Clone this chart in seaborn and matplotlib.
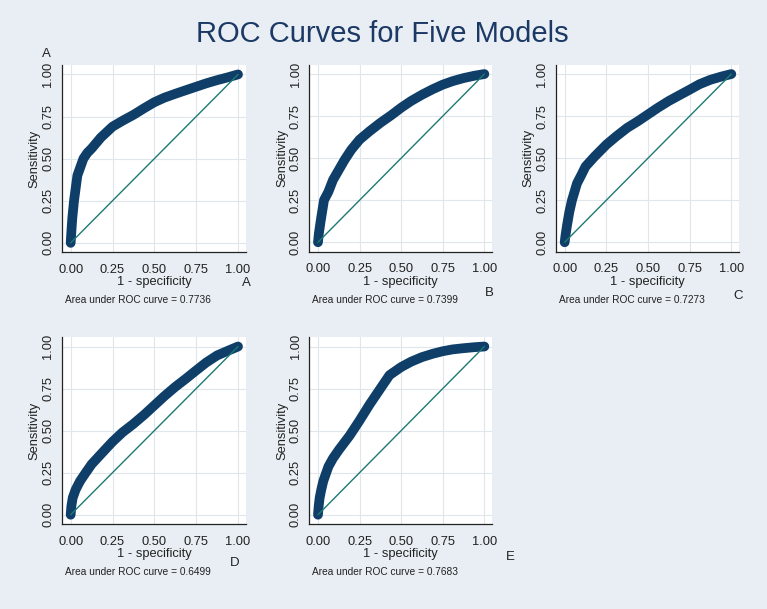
import numpy as np
import pandas as pd
import seaborn as sns
import matplotlib.pyplot as plt

# ROC points (1 - specificity, sensitivity)
fpr_a = [0.0, 0.005, 0.01, 0.02, 0.04, 0.076, 0.1, 0.125, 0.18, 0.25, 0.31, 0.375, 0.44,
         0.5, 0.56, 0.625, 0.69, 0.75, 0.81, 0.875, 0.94, 1.0]
tpr_a = [0.0, 0.08, 0.15, 0.25, 0.40, 0.50, 0.535, 0.56, 0.625, 0.69, 0.725, 0.76, 0.80,
         0.835, 0.862, 0.885, 0.907, 0.927, 0.947, 0.966, 0.983, 1.0]

fpr_b = [0.0, 0.005, 0.016, 0.036, 0.0625, 0.09, 0.125, 0.16, 0.2, 0.25, 0.31, 0.375, 0.44,
         0.5, 0.56, 0.625, 0.69, 0.75, 0.81, 0.875, 0.94, 1.0]
tpr_b = [0.0, 0.05, 0.125, 0.25, 0.30, 0.37, 0.43, 0.49, 0.55, 0.61, 0.66, 0.71, 0.755,
         0.80, 0.84, 0.877, 0.91, 0.937, 0.958, 0.976, 0.99, 1.0]

fpr_c = [0.0, 0.005, 0.014, 0.028, 0.044, 0.074, 0.1, 0.125, 0.18, 0.25, 0.31, 0.375, 0.44,
         0.5, 0.56, 0.625, 0.69, 0.75, 0.81, 0.875, 0.94, 1.0]
tpr_c = [0.0, 0.04, 0.10, 0.18, 0.25, 0.35, 0.40, 0.45, 0.51, 0.58, 0.63, 0.68, 0.72,
         0.76, 0.80, 0.84, 0.875, 0.907, 0.94, 0.966, 0.985, 1.0]

fpr_d = [0.0, 0.004, 0.012, 0.03, 0.056, 0.09, 0.125, 0.19, 0.25, 0.31, 0.375, 0.44, 0.5,
         0.56, 0.625, 0.69, 0.75, 0.81, 0.875, 0.94, 1.0]
tpr_d = [0.0, 0.05, 0.10, 0.15, 0.20, 0.25, 0.30, 0.37, 0.434, 0.49, 0.54, 0.595, 0.65,
         0.705, 0.76, 0.81, 0.858, 0.905, 0.947, 0.975, 1.0]

fpr_e = [0.0, 0.004, 0.01, 0.02, 0.032, 0.0625, 0.09, 0.125, 0.19, 0.25, 0.31, 0.375, 0.43,
         0.5, 0.56, 0.625, 0.69, 0.75, 0.81, 0.875, 0.94, 1.0]
tpr_e = [0.0, 0.05, 0.10, 0.15, 0.20, 0.286, 0.335, 0.385, 0.47, 0.56, 0.655, 0.75, 0.83,
         0.878, 0.91, 0.937, 0.957, 0.972, 0.983, 0.99, 0.996, 1.0]

models = ['A', 'B', 'C', 'D', 'E']
auc_values = ['0.7736', '0.7399', '0.7273', '0.6499', '0.7683']
diag = [0.0, 1.0]
ticks = [0.0, 0.25, 0.5, 0.75, 1.0]
tick_labels = ['0.00', '0.25', '0.50', '0.75', '1.00']

curves = {
    'A': (fpr_a, tpr_a),
    'B': (fpr_b, tpr_b),
    'C': (fpr_c, tpr_c),
    'D': (fpr_d, tpr_d),
    'E': (fpr_e, tpr_e),
}

# axes rectangles in figure fraction and where the model letter sits (axes fraction)
axes_rects = {
    'A': [0.0808, 0.586, 0.240, 0.307],
    'B': [0.4033, 0.587, 0.2386, 0.3066],
    'C': [0.7249, 0.587, 0.2390, 0.3066],
    'D': [0.0808, 0.1396, 0.240, 0.3066],
    'E': [0.4033, 0.1396, 0.2386, 0.3066],
}
letter_pos = {
    'A': (1.004, -0.166),
    'B': (0.984, -0.22),
    'C': (0.993, -0.237),
    'D': (0.94, -0.207),
    'E': (1.10, -0.178),
}

bg = '#e8eef3'
navy = '#0f3f69'
teal = '#1d7a72'

sns.set_theme(style='white')
plt.rcParams['font.family'] = ['Liberation Sans', 'DejaVu Sans']

fig = plt.figure(figsize=(7.67, 6.09), dpi=100)
fig.patch.set_facecolor(bg)

fig.text(0.4987, 0.9315, 'ROC Curves for Five Models', ha='center', va='baseline',
         fontsize=21, color='#1c3966')
fig.text(0.0609, 0.9113, 'A', ha='center', va='center', fontsize=9.5, color='#222222')

for model, auc in zip(models, auc_values):
    ax = fig.add_axes(axes_rects[model])
    ax.set_facecolor('white')
    fpr, tpr = curves[model]
    df = pd.DataFrame({'fpr': fpr, 'tpr': tpr})

    sns.lineplot(data=df, x='fpr', y='tpr', ax=ax, color=navy, linewidth=7,
                 sort=False, solid_capstyle='round', solid_joinstyle='round', zorder=2)
    sns.lineplot(x=diag, y=diag, ax=ax, color=teal, linewidth=1.0, zorder=3)

    ax.set_xlim(-0.052, 1.048)
    ax.set_ylim(-0.055, 1.055)
    ax.set_xticks(ticks)
    ax.set_xticklabels(tick_labels)
    ax.set_yticks(ticks)
    ax.set_yticklabels(tick_labels, rotation=90, va='center')
    ax.grid(True, color='#dfe7ed', linewidth=0.8)
    ax.set_axisbelow(True)

    for side in ['top', 'right']:
        ax.spines[side].set_visible(False)
    for side in ['left', 'bottom']:
        ax.spines[side].set_color('#222222')
        ax.spines[side].set_linewidth(0.9)

    ax.tick_params(axis='both', direction='out', length=3, width=0.9, color='#222222',
                   labelsize=9.3, labelcolor='#222222')
    ax.tick_params(axis='x', pad=5.5)
    ax.tick_params(axis='y', pad=2.5)

    ax.set_xlabel('1 - specificity', fontsize=9.3, color='#222222', va='top')
    ax.xaxis.set_label_coords(0.5, -0.13)
    ax.set_ylabel('Sensitivity', fontsize=9.3, color='#222222')
    ax.yaxis.set_label_coords(-0.115, 0.5)

    ax.text(0.412, -0.258, f'Area under ROC curve = {auc}', transform=ax.transAxes,
            ha='center', va='center', fontsize=7.3, color='#222222')
    lx, ly = letter_pos[model]
    ax.text(lx, ly, model, transform=ax.transAxes, ha='center', va='center',
            fontsize=9.5, color='#222222')

fig.savefig('out.png', dpi=100, facecolor=bg)
